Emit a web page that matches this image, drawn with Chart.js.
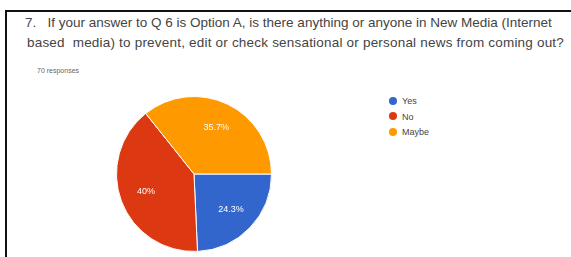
<!DOCTYPE html>
<html>
<head>
<meta charset="utf-8">
<script src="https://cdn.jsdelivr.net/npm/chart.js@4/dist/chart.umd.min.js"></script>
<style>
  html, body { margin: 0; padding: 0; background: #fff; }
  body { width: 571px; height: 257px; position: relative; overflow: hidden; font-family: "Liberation Sans", Arial, sans-serif; }
  #frame { position: absolute; left: 5px; top: 10px; width: 564px; height: 260px; border-left: 2px solid #111; border-top: 2px solid #111; border-right: 1px solid #e4e4e4; }
  .q { position: absolute; left: 25px; font-size: 13.5px; color: #444; white-space: nowrap; }
  #resp { position: absolute; left: 37px; top: 67px; font-size: 7px; color: #666; }
  #pieBox { position: absolute; left: 114px; top: 96px; width: 160px; height: 156px; }
  #legend { position: absolute; left: 389px; top: 96px; font-size: 9px; color: #444; }
  #legend div { height: 15.5px; line-height: 10px; white-space: nowrap; }
  #legend span.dot { display: inline-block; width: 8px; height: 8px; border-radius: 50%; vertical-align: middle; margin-right: 5px; position: relative; top: -1px; }
</style>
</head>
<body>
<div id="frame"></div>
<div class="q" style="top:15px;">7.&nbsp;&nbsp; If your answer to Q 6 is Option A, is there anything or anyone in New Media (Internet</div>
<div class="q" style="top:35px;left:27px;letter-spacing:0.2px;">based&nbsp; media) to prevent, edit or check sensational or personal news from coming out?</div>
<div id="resp">70 responses</div>
<div id="pieBox"><canvas id="pie"></canvas></div>
<div id="legend"></div>
<script>
var categorias = ['Yes', 'No', 'Maybe'];
var respuestas = [17, 28, 25];
var colores = ['#3366cc', '#dc3912', '#ff9900'];

// etiquetas de porcentaje dentro de cada trozo
var etiquetas = {
  id: 'etiquetas',
  afterDatasetsDraw: function(chart) {
    var ctx = chart.ctx;
    var meta = chart.getDatasetMeta(0);
    var total = respuestas.reduce(function(a, b) { return a + b; }, 0);
    ctx.save();
    ctx.fillStyle = '#fff';
    ctx.font = '9px "Liberation Sans", Arial, sans-serif';
    ctx.textAlign = 'center';
    ctx.textBaseline = 'middle';
    meta.data.forEach(function(arc, i) {
      var p = arc.getProps(['x', 'y', 'startAngle', 'endAngle', 'outerRadius'], true);
      var mid = (p.startAngle + p.endAngle) / 2;
      var r = p.outerRadius * 0.66;
      var txt = (respuestas[i] * 100 / total).toFixed(1).replace('.0', '') + '%';
      ctx.fillText(txt, p.x + Math.cos(mid) * r, p.y + Math.sin(mid) * r);
    });
    ctx.restore();
  }
};

var grafico = new Chart(document.getElementById('pie').getContext('2d'), {
  type: 'pie',
  data: {
    labels: categorias,
    datasets: [{
      data: respuestas,
      backgroundColor: colores,
      borderColor: '#fff',
      borderWidth: 1,
      hoverOffset: 0
    }]
  },
  options: {
    responsive: true,
    maintainAspectRatio: false,
    animation: false,
    rotation: 90,
    layout: { padding: 0 },
    plugins: {
      legend: { display: false },
      tooltip: { enabled: false }
    }
  },
  plugins: [etiquetas]
});

// leyenda en html a partir de la del propio chart
var items = grafico.options.plugins.legend.labels.generateLabels(grafico);
var leg = document.getElementById('legend');
items.forEach(function(it) {
  var d = document.createElement('div');
  d.innerHTML = '<span class="dot" style="background:' + it.fillStyle + '"></span>' + it.text;
  leg.appendChild(d);
});
</script>
</body>
</html>
